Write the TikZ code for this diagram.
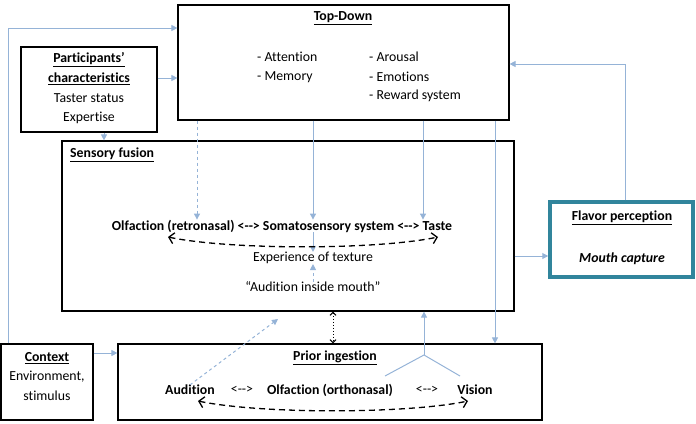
\documentclass[tikz,border=0pt]{standalone}
\usepackage{fontspec}
\setmainfont[Ligatures={TeX,NoCommon}]{Carlito}
\usetikzlibrary{arrows.meta}
\definecolor{flowblue}{HTML}{95B3D7}
\definecolor{flavorteal}{HTML}{31859C}
\tikzset{
  box/.style={draw,line width=1.2pt,inner sep=0pt},
  flow/.style={draw=flowblue,line width=1pt,-{Triangle[length=6pt,width=6pt]}},
  link/.style={draw=flowblue,line width=1pt},
  loopline/.style={line width=1.3pt,dash pattern=on 6pt off 4pt,{Straight Barb[length=5pt,width=11pt]}-{Straight Barb[length=5pt,width=11pt]}},
  txt/.style={inner sep=0pt,font=\fontsize{13.8}{16}\selectfont},
  head/.style={inner sep=0pt,font=\fontsize{13.8}{16}\selectfont\bfseries},
}
\begin{document}
\begin{tikzpicture}[x=1pt,y=-1pt]
\useasboundingbox (0,0) rectangle (696,423);

% boxes
\node[box,minimum width=331pt,minimum height=115pt] (topdown) at (343.5,62.5) {};
\node[box,minimum width=136pt,minimum height=85pt] (participants) at (89,89.5) {};
\node[box,minimum width=452pt,minimum height=170pt] (fusion) at (288,226) {};
\node[draw=flavorteal,line width=3.5pt,inner sep=0pt,minimum width=143pt,minimum height=75pt] (flavor) at (621.5,239.5) {};
\node[box,minimum width=92pt,minimum height=76pt] (context) at (47,382) {};
\node[box,minimum width=424pt,minimum height=76pt] (prior) at (330,382) {};

% Top-Down
\node[head] (tdtitle) at (343,18) {\underline{Top-Down}};
\node[txt,anchor=west] (attention) at (257,57) {- Attention};
\node[txt,anchor=west] (memory) at (257,77) {- Memory};
\node[txt,anchor=west] (arousal) at (369,57) {- Arousal};
\node[txt,anchor=west] (emotions) at (369,77) {- Emotions};
\node[txt,anchor=west] (reward) at (369,96) {- Reward system};

% participants
\node[head] (part1) at (89,60) {\underline{Participants’}};
\node[head] (part2) at (89,79) {\underline{characteristics}};
\node[txt] (taster) at (89,98) {Taster status};
\node[txt] (expertise) at (89,118) {Expertise};

% sensory fusion
\node[head,anchor=west] (fustitle) at (70,155) {\underline{Sensory fusion}};
\node[head] (fusionline) at (282,226) {Olfaction (retronasal) <{-}{-}> Somatosensory system <{-}{-}> Taste};
\node[txt] (texture) at (313,258) {Experience of texture};
\node[txt] (mouth) at (313,287) {“Audition inside mouth”};

% flavor
\node[head] (flavtitle) at (622,218) {\underline{Flavor perception}};
\node[head] (mouthcap) at (622,259) {\textit{Mouth capture}};

% context
\node[head] (ctxtitle) at (47,358) {\underline{Context}};
\node[txt] (env) at (47,377) {Environment,};
\node[txt] (stim) at (47,396) {stimulus};

% prior ingestion
\node[head] (priortitle) at (335,358) {\underline{Prior ingestion}};
\node[head] (audition) at (190,390) {Audition};
\node[txt] (arrowa) at (242,390) {<{-}{-}>};
\node[head] (ortho) at (330,390) {Olfaction (orthonasal)};
\node[txt] (arrowb) at (427,390) {<{-}{-}>};
\node[head] (vision) at (475,390) {Vision};

\coordinate (mouthcue) at (278,319);
\coordinate (fork) at (424,355);
\coordinate (forkl) at (385,376);
\coordinate (forkr) at (460,376);
\coordinate (loopl) at (168,237);
\coordinate (loopr) at (438,237);
\coordinate (priorl) at (198,401);
\coordinate (priorr) at (468,401);

% connectors
\draw[flow] (context.north -| 8,0) |- (topdown.west |- 0,28);
\draw[flow] (participants.east |- 0,78) -- (topdown.west |- 0,78);
\draw[flow] (participants.south -| 104,0) -- (fusion.north -| 104,0);
\draw[flow,dashed] (topdown.south -| 197,0) -- (fusionline.north -| 197,0);
\draw[flow] (topdown.south -| 313,0) -- (fusionline.north -| 313,0);
\draw[flow] (topdown.south -| 423,0) -- (fusionline.north -| 423,0);
\draw[flow] (topdown.south -| 495,0) -- (prior.north -| 495,0);
\draw[flow] (flavor.north -| 625,0) |- (topdown.east |- 0,64);
\draw[flow] (fusion.east |- 0,256) -- (flavor.west |- 0,256);
\draw[flow] (context.east |- 0,353) -- (prior.west |- 0,353);
\draw[flow] (fusionline.south -| 313,0) -- (texture.north -| 313,0);
\draw[flow,dashed] (mouth.north -| 313,0) -- (texture.south -| 313,0);
\draw[flow,dashed] (audition.north) -- (mouthcue);
\draw[link] (forkl) -- (fork) -- (forkr);
\draw[flow] (fork) -- (fusion.south -| fork);
\draw[line width=1pt,dotted,{Straight Barb[length=3pt,width=6pt]}-{Straight Barb[length=3pt,width=6pt]}] (fusion.south -| 333,0) -- (prior.north -| 333,0);
\draw[loopline] (loopl) .. controls (230,250) and (376,250) .. (loopr);
\draw[loopline] (priorl) .. controls (260,414) and (406,414) .. (priorr);
\end{tikzpicture}
\end{document}
